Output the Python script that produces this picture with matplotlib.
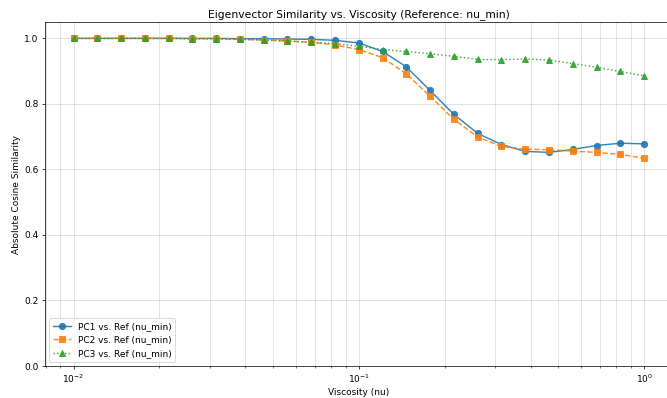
import numpy as np
import matplotlib.pyplot as plt

# viscosity sweep (log spaced, 25 values from 1e-2 to 1e0)
viscosity = [0.01, 0.01212, 0.01468, 0.01778, 0.02154, 0.02610, 0.03162, 0.03831,
             0.04642, 0.05623, 0.06813, 0.08254, 0.1, 0.1212, 0.1468, 0.1778,
             0.2154, 0.2610, 0.3162, 0.3831, 0.4642, 0.5623, 0.6813, 0.8254, 1.0]

pc1_sim = [1.0, 1.0, 1.0, 1.0, 1.0, 1.0, 1.0, 0.999, 0.999, 0.998, 0.997, 0.994, 0.986,
           0.960, 0.913, 0.841, 0.768, 0.710, 0.676, 0.655, 0.652, 0.661, 0.673, 0.680, 0.678]
pc2_sim = [1.0, 1.0, 1.0, 1.0, 1.0, 0.999, 0.999, 0.997, 0.995, 0.992, 0.988, 0.980, 0.966,
           0.941, 0.892, 0.823, 0.753, 0.699, 0.670, 0.662, 0.660, 0.656, 0.652, 0.646, 0.634]
pc3_sim = [1.0, 1.0, 1.0, 1.0, 1.0, 0.999, 0.999, 0.997, 0.995, 0.992, 0.988, 0.984, 0.976,
           0.966, 0.960, 0.953, 0.945, 0.936, 0.935, 0.937, 0.934, 0.923, 0.912, 0.899, 0.886]

dpi = 64.5
fig = plt.figure(figsize=(667 / dpi, 398 / dpi), dpi=dpi)
ax = fig.add_axes([45 / 667, 32 / 398, 627.6 / 667, 344 / 398])

style = dict(lw=1.6, markersize=7, alpha=0.9)
ax.plot(viscosity, pc1_sim, 'o-', label='PC1 vs. Ref (nu_min)', **style)
ax.plot(viscosity, pc2_sim, 's--', label='PC2 vs. Ref (nu_min)', **style)
ax.plot(viscosity, pc3_sim, '^:', label='PC3 vs. Ref (nu_min)', **style)

ax.set_xscale('log')
ax.set_ylim(0, 1.05)
ax.set_xlabel('Viscosity (nu)')
ax.set_ylabel('Absolute Cosine Similarity')
ax.set_title('Eigenvector Similarity vs. Viscosity (Reference: nu_min)')
ax.grid(True, which='both', alpha=0.5)
ax.legend(loc='lower left')

fig.savefig('out.png', dpi=dpi)
